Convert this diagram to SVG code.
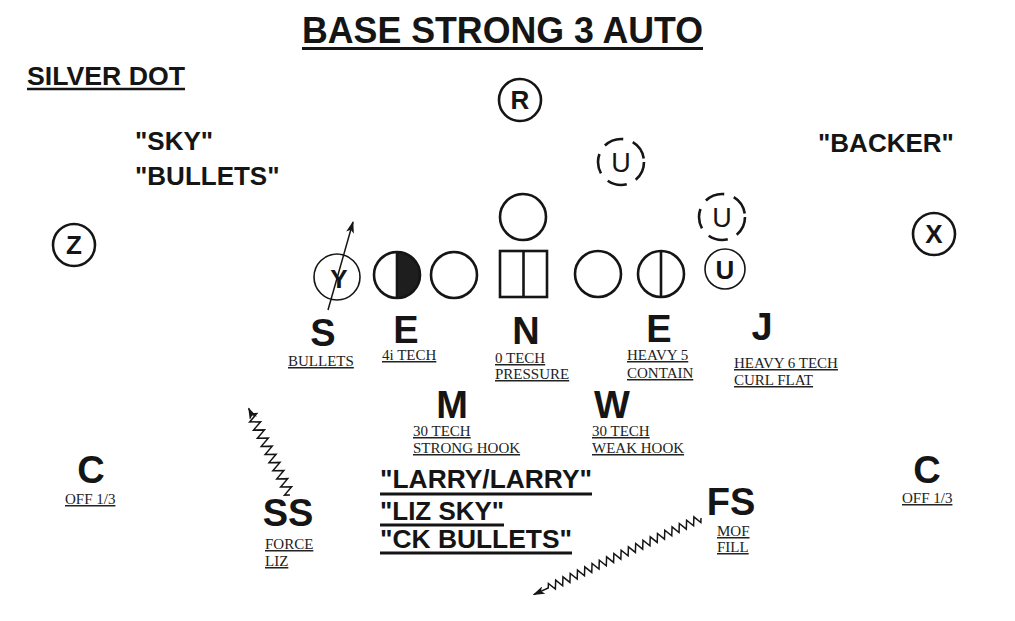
<svg xmlns="http://www.w3.org/2000/svg" width="1015" height="621" viewBox="0 0 1015 621">
<style>
.hd{font-family:"Liberation Sans",Arial,sans-serif;font-weight:bold;fill:#151515}
.big{font-family:"Liberation Sans",Arial,sans-serif;font-weight:bold;font-size:38px;fill:#151515;text-anchor:middle}
.q{font-family:"Liberation Sans",Arial,sans-serif;font-weight:bold;font-size:26px;fill:#151515}
.lb{font-family:"Liberation Serif","Times New Roman",serif;font-size:15px;fill:#222;text-decoration:underline}
.ul{stroke:#151515;stroke-width:3}
.c{fill:none;stroke:#151515;stroke-width:2.6}
.thin{fill:none;stroke:#151515;stroke-width:1.6}
.dash{fill:none;stroke:#151515;stroke-width:2.6;stroke-dasharray:20 10}
.ct{font-family:"Liberation Sans",Arial,sans-serif;font-weight:bold;font-size:26px;fill:#151515;text-anchor:middle}
.ut{font-family:"Liberation Sans",Arial,sans-serif;font-size:27px;fill:#151515;text-anchor:middle}
.ln{fill:none;stroke:#151515;stroke-width:1.5}
</style>
<defs>
<marker id="ah" viewBox="0 0 12 8" refX="11" refY="4" markerWidth="12" markerHeight="8" markerUnits="userSpaceOnUse" orient="auto"><path d="M0 0 L12 4 L0 8 L3 4 Z" fill="#151515"/></marker>
</defs>
<rect width="1015" height="621" fill="#fff"/>
<g id="title">
<text class="hd" x="302" y="43" font-size="37" textLength="401" lengthAdjust="spacingAndGlyphs">BASE STRONG 3 AUTO</text>
<line class="ul" x1="302" y1="48.5" x2="703" y2="48.5"/>
</g>
<g id="silver-dot">
<text class="hd" x="27" y="85" font-size="25" textLength="158" lengthAdjust="spacingAndGlyphs">SILVER DOT</text>
<line x1="27" y1="89" x2="185" y2="89" stroke="#151515" stroke-width="2.5"/>
</g>
<g id="calls-left">
<text class="q" x="135" y="150">"SKY"</text>
<text class="q" x="135" y="185">"BULLETS"</text>
</g>
<g id="call-backer"><text class="q" x="818" y="152">"BACKER"</text></g>
<g id="R"><circle class="c" cx="520" cy="100" r="21"/><text class="ct" x="520" y="109">R</text></g>
<g id="U1"><circle class="dash" cx="621" cy="162" r="23"/><text class="ut" x="621" y="172">U</text></g>
<g id="U2"><circle class="dash" cx="722" cy="217" r="23"/><text class="ut" x="722" y="227">U</text></g>
<g id="Z"><circle class="c" cx="74" cy="245" r="21"/><text class="ct" x="74" y="254">Z</text></g>
<g id="X"><circle class="c" cx="934" cy="234" r="21"/><text class="ct" x="934" y="243">X</text></g>
<g id="Y"><circle class="thin" cx="337" cy="277" r="23"/><text class="ct" x="339" y="288" font-size="29">Y</text></g>
<g id="tackle-half"><path d="M397 252 A23 23 0 0 1 397 298 Z" fill="#1e1e1e"/><circle class="c" cx="397" cy="275" r="23"/><line class="c" x1="397" y1="252" x2="397" y2="298"/></g>
<g id="guard-l"><circle class="c" cx="454" cy="275" r="23"/></g>
<g id="center"><rect class="c" x="500" y="251" width="47" height="46"/><line class="c" x1="523.5" y1="251" x2="523.5" y2="297"/></g>
<g id="qb"><circle class="c" cx="523" cy="217" r="23"/></g>
<g id="guard-r"><circle class="c" cx="598" cy="274" r="23"/></g>
<g id="tackle-r"><circle class="c" cx="661" cy="274" r="23"/><line class="c" x1="661" y1="251" x2="661" y2="297"/></g>
<g id="U3"><circle class="thin" cx="725" cy="269" r="20"/><text class="ct" x="725" y="279">U</text></g>
<g id="S"><text class="big" x="323" y="346" font-size="40">S</text><text class="lb" x="288" y="366">BULLETS</text></g>
<g id="E1"><text class="big" x="406" y="343">E</text><text class="lb" x="382" y="360">4i TECH</text></g>
<g id="N"><text class="big" x="526" y="344">N</text><text class="lb" x="495" y="363">0 TECH</text><text class="lb" x="495" y="379">PRESSURE</text></g>
<g id="E2"><text class="big" x="659" y="342">E</text><text class="lb" x="627" y="360">HEAVY 5</text><text class="lb" x="627" y="378">CONTAIN</text></g>
<g id="J"><text class="big" x="762" y="340">J</text><text class="lb" x="734" y="368">HEAVY 6 TECH</text><text class="lb" x="734" y="385">CURL FLAT</text></g>
<g id="M"><text class="big" x="452" y="418">M</text><text class="lb" x="413" y="436">30 TECH</text><text class="lb" x="413" y="453">STRONG HOOK</text></g>
<g id="W"><text class="big" x="612" y="418">W</text><text class="lb" x="592" y="436">30 TECH</text><text class="lb" x="592" y="453">WEAK HOOK</text></g>
<g id="C-left"><text class="big" x="91" y="483" font-size="37">C</text><text class="lb" x="65" y="504">OFF 1/3</text></g>
<g id="C-right"><text class="big" x="927" y="483" font-size="37">C</text><text class="lb" x="902" y="503">OFF 1/3</text></g>
<g id="SS"><text class="big" x="288" y="526" font-size="38">SS</text><text class="lb" x="265" y="549">FORCE</text><text class="lb" x="265" y="566">LIZ</text></g>
<g id="FS"><text class="big" x="731" y="515" font-size="40">FS</text><text class="lb" x="717" y="536">MOF</text><text class="lb" x="717" y="552">FILL</text></g>
<g id="calls-center">
<text class="q" x="380" y="488" font-size="27" textLength="212" lengthAdjust="spacingAndGlyphs">"LARRY/LARRY"</text>
<line class="ul" x1="380" y1="494" x2="592" y2="494"/>
<text class="q" x="380" y="520" font-size="27" textLength="124" lengthAdjust="spacingAndGlyphs">"LIZ SKY"</text>
<line class="ul" x1="380" y1="525" x2="504" y2="525"/>
<text class="q" x="380" y="548" font-size="27" textLength="192" lengthAdjust="spacingAndGlyphs">"CK BULLETS"</text>
<line class="ul" x1="380" y1="553" x2="572" y2="553"/>
</g>
<g id="connectors">
<line class="ln" x1="328" y1="310" x2="353" y2="222" marker-end="url(#ah)"/>
<path class="ln" transform="translate(290,495) rotate(-115.5)" d="M0 0 l2.25 -5 l4.5 10 l4.5 -10 l4.5 10 l4.5 -10 l4.5 10 l4.5 -10 l4.5 10 l4.5 -10 l4.5 10 l4.5 -10 l4.5 10 l4.5 -10 l4.5 10 l4.5 -10 l4.5 10 l4.5 -10 l4.5 10 l4.5 -10 l4.5 10 l2.25 -5 L96 0" marker-end="url(#ah)"/>
<path class="ln" transform="translate(701,518) rotate(155.4)" d="M0 0 l2 -4 l4 8 l4 -8 l4 8 l4 -8 l4 8 l4 -8 l4 8 l4 -8 l4 8 l4 -8 l4 8 l4 -8 l4 8 l4 -8 l4 8 l4 -8 l4 8 l4 -8 l4 8 l4 -8 l4 8 l4 -8 l4 8 l4 -8 l4 8 l4 -8 l4 8 l4 -8 l4 8 l4 -8 l4 8 l4 -8 l4 8 l4 -8 l4 8 l4 -8 l4 8 l4 -8 l4 8 l4 -8 l4 8 l2 -4 L184 0" marker-end="url(#ah)"/>
</g>
</svg>
